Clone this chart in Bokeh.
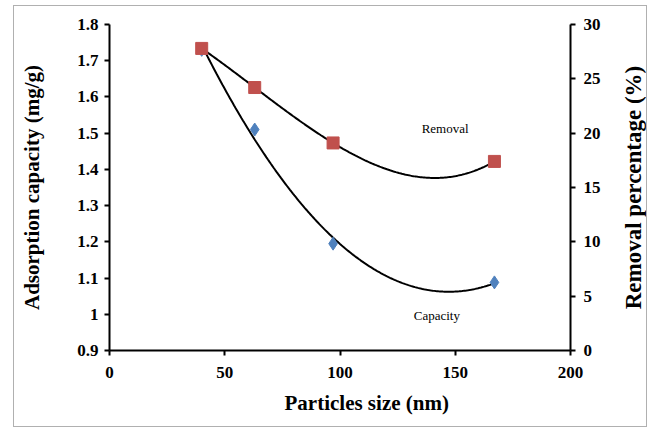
import math
import numpy as np
from bokeh.plotting import figure
from bokeh.layouts import row
from bokeh.models import Range1d, LinearAxis, FixedTicker, Title
from bokeh.embed import file_html
from bokeh.resources import INLINE
from bokeh.core.properties import value

# Data
particle_size = [40, 63, 97, 167]
capacity = [1.73, 1.51, 1.195, 1.088]
removal = [27.8, 24.2, 19.1, 17.4]

x_ticks = [0, 50, 100, 150, 200]
left_ticks = [0.9, 1.0, 1.1, 1.2, 1.3, 1.4, 1.5, 1.6, 1.7, 1.8]
left_tick_labels = ["0.9", "1", "1.1", "1.2", "1.3", "1.4", "1.5", "1.6", "1.7", "1.8"]
right_ticks = [0, 5, 10, 15, 20, 25, 30]

FONT = "Liberation Serif"

p = figure(width=605, height=420, output_backend="svg", toolbar_location=None,
           x_range=Range1d(0, 200), y_range=Range1d(0.9, 1.8),
           min_border_left=95, min_border_right=49, min_border_top=18, min_border_bottom=76)
p.outline_line_color = None
p.xgrid.visible = False
p.ygrid.visible = False
p.extra_y_ranges = {"right": Range1d(0, 30)}

# trend lines: 2nd order polynomial for capacity, 3rd order for removal
xs = np.linspace(min(particle_size), max(particle_size), 200)
cfit = np.polyval(np.polyfit(particle_size, capacity, 2), xs)
rfit = np.polyval(np.polyfit(particle_size, removal, 3), xs)
p.line(xs, cfit, line_color="black", line_width=2)
p.line(xs, rfit, line_color="black", line_width=2, y_range_name="right")

p.scatter(particle_size, capacity, marker="diamond", size=13, fill_color="#4F81BD", line_color="#4F81BD")
p.scatter(particle_size, removal, marker="square", size=12, fill_color="#C0504D", line_color="#C0504D",
          y_range_name="right")

p.text(x=[145.6], y=[1.5125], text=["Removal"], text_font=value(FONT), text_font_size="13px",
       text_align="center", text_baseline="middle", text_color="black")
p.text(x=[142], y=[0.997], text=["Capacity"], text_font=value(FONT), text_font_size="13px",
       text_align="center", text_baseline="middle", text_color="black")

right_axis = LinearAxis(y_range_name="right")
p.add_layout(right_axis, "right")

p.xaxis.ticker = FixedTicker(ticks=x_ticks)
p.yaxis[0].ticker = FixedTicker(ticks=left_ticks)
p.yaxis[0].major_label_overrides = {t: l for t, l in zip(left_ticks, left_tick_labels)}
p.yaxis[0].axis_label = "Adsorption capacity (mg/g)"
right_axis.ticker = FixedTicker(ticks=right_ticks)

for ax in [p.xaxis[0], p.yaxis[0], right_axis]:
    ax.axis_line_color = "black"
    ax.axis_line_width = 2
    ax.major_tick_line_color = "black"
    ax.major_tick_line_width = 2
    ax.major_tick_out = 5
    ax.major_tick_in = 0
    ax.minor_tick_line_color = None
    ax.major_label_text_font = FONT
    ax.major_label_text_font_style = "bold"
    ax.major_label_text_font_size = "17px"
    ax.major_label_text_color = "black"
    ax.axis_label_text_font = FONT
    ax.axis_label_text_font_style = "bold"
    ax.axis_label_text_font_size = "21px"
    ax.axis_label_text_color = "black"

p.xaxis.major_label_standoff = 11
p.yaxis[0].major_label_standoff = 6
p.yaxis[0].axis_label_standoff = 30
right_axis.major_label_standoff = 8

# x-axis title, slightly right of centre as in the reference
xtitle = Title(text="Particles size (nm)", align="left", offset=175, standoff=17,
               text_font=FONT, text_font_style="bold", text_font_size="21px", text_color="black")
p.add_layout(xtitle, "below")

# narrow strip carrying the right-axis title (reads bottom to top)
q = figure(width=27, height=420, output_backend="svg", toolbar_location=None,
           x_range=Range1d(0, 1), y_range=Range1d(0, 1), x_axis_type=None, y_axis_type=None,
           min_border_left=0, min_border_right=0, min_border_top=0, min_border_bottom=0)
q.outline_line_color = None
q.xgrid.visible = False
q.ygrid.visible = False
q.text(x=[0.5], y=[0.5], text=["Removal percentage (%)"], angle=math.pi / 2,
       text_font=value(FONT), text_font_style="bold", text_font_size="23px",
       text_align="center", text_baseline="middle", text_color="black")

layout = row(p, q, spacing=0)
layout.margin = (5, 0, 0, 13)
layout.styles = {"border": "1px solid #b0b0b0"}

open("out.html", "w").write(file_html(layout, INLINE))
